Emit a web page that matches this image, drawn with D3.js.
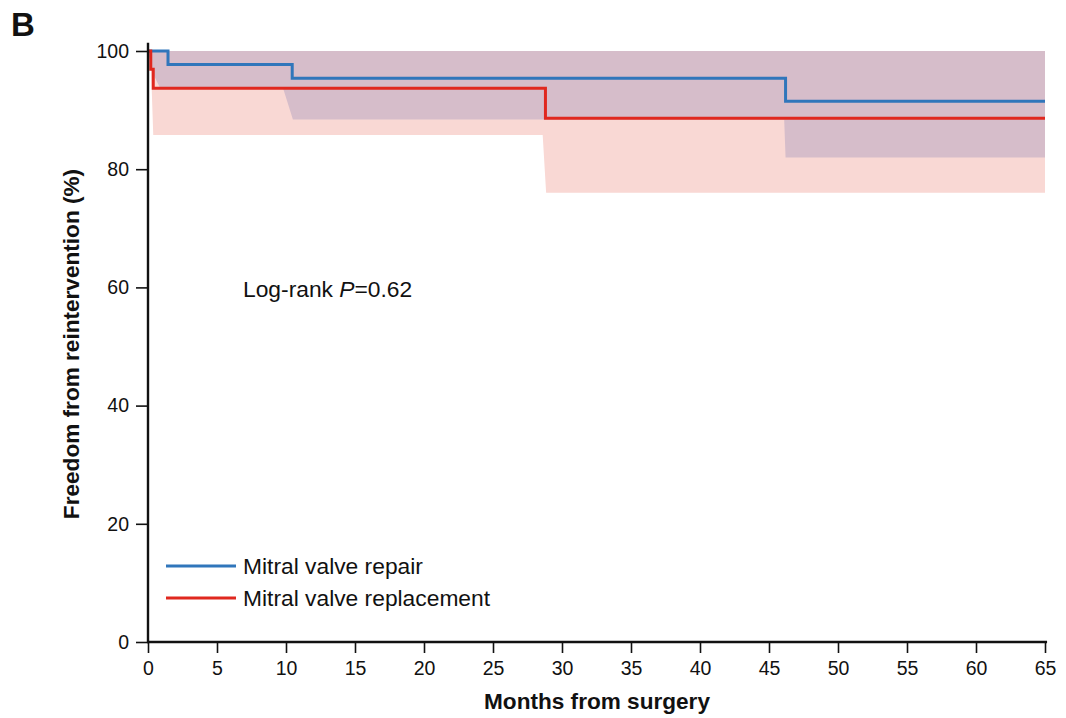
<!DOCTYPE html>
<html>
<head>
<meta charset="utf-8">
<script src="https://cdn.jsdelivr.net/npm/d3@7"></script>
<style>
  body { margin: 0; background: #fff; }
  text { font-family: "Liberation Sans", Arial, sans-serif; }
</style>
</head>
<body>
<div id="chart"></div>
<script>
// Kaplan-Meier step points [month, survival %]
const repairCurve = [[0, 100], [1.45, 97.7], [10.45, 95.4], [46.2, 91.5], [65, 91.5]];
const replaceCurve = [[0, 100], [0.2, 96.9], [0.38, 93.7], [28.8, 88.6], [65, 88.6]];

// confidence band lower limits (upper is 100 throughout)
const repairLower = [[0, 100], [0.3, 96.5], [0.9, 93.6], [9.8, 93.6], [10.5, 88.4], [46.1, 88.4], [46.2, 82], [65, 82]];
const replaceLower = [[0.22, 97], [0.38, 85.8], [28.6, 85.8], [28.85, 76], [65, 76]];

const xTicks = d3.range(0, 70, 5);
const yTicks = [0, 20, 40, 60, 80, 100];
const seriesNames = ["Mitral valve repair", "Mitral valve replacement"];

const width = 1066, height = 718,
  margin = ({top: 51, right: 21, bottom: 76, left: 148});

const svg = d3.select("#chart").append("svg")
  .attr("width", width).attr("height", height)
  .attr("viewBox", [0, 0, width, height]);

const x = d3.scaleLinear().domain([0, 65]).range([margin.left, width - margin.right]);
const y = d3.scaleLinear().domain([0, 100]).range([height - margin.bottom, margin.top]);

// bands
const band = d3.area()
  .x(d => x(d[0]))
  .y0(d => y(d[1]))
  .y1(y(100));

svg.append("path").datum(replaceLower)
  .attr("fill", "#f9d8d4")
  .attr("d", band);

svg.append("path").datum(repairLower)
  .attr("fill", "#d6bdca")
  .attr("d", band);

// step curves
const step = d3.line().x(d => x(d[0])).y(d => y(d[1])).curve(d3.curveStepAfter);

svg.append("path").datum(repairCurve)
  .attr("fill", "none").attr("stroke", "#3076bb").attr("stroke-width", 3)
  .attr("d", step);

svg.append("path").datum(replaceCurve)
  .attr("fill", "none").attr("stroke", "#e0281f").attr("stroke-width", 3)
  .attr("d", step);

// axes
const xAxis = g => g
  .attr("transform", `translate(0, ${y(0)})`)
  .call(d3.axisBottom(x).tickValues(xTicks).tickSize(11).tickPadding(8).tickSizeOuter(0))
  .call(g => g.select(".domain").remove());

const yAxis = g => g
  .attr("transform", `translate(${x(0)}, 0)`)
  .call(d3.axisLeft(y).tickValues(yTicks).tickSize(12).tickPadding(7).tickSizeOuter(0))
  .call(g => g.select(".domain").remove());

svg.append("g").call(xAxis);
svg.append("g").call(yAxis);

svg.selectAll(".tick line").attr("stroke", "#111").attr("stroke-width", 1.6);
svg.selectAll(".tick text").attr("font-size", 19.5).attr("fill", "#111")
  .style("font-family", "'Liberation Sans', Arial, sans-serif");

// axis lines
svg.append("line")
  .attr("x1", x(0)).attr("x2", x(0))
  .attr("y1", y(101.4)).attr("y2", y(0) + 1)
  .attr("stroke", "#111").attr("stroke-width", 2.4);
svg.append("line")
  .attr("x1", x(0) - 1).attr("x2", x(65.15))
  .attr("y1", y(0)).attr("y2", y(0))
  .attr("stroke", "#111").attr("stroke-width", 2.4);

// titles
svg.append("text")
  .attr("transform", `translate(79, 344) rotate(-90)`)
  .attr("text-anchor", "middle")
  .attr("font-size", 22.6).attr("font-weight", "bold").attr("fill", "#111")
  .text("Freedom from reintervention (%)");

svg.append("text")
  .attr("x", 597).attr("y", 709)
  .attr("text-anchor", "middle")
  .attr("font-size", 22.6).attr("font-weight", "bold").attr("fill", "#111")
  .text("Months from surgery");

svg.append("text")
  .attr("x", 11).attr("y", 36)
  .attr("font-size", 33).attr("font-weight", "bold").attr("fill", "#111")
  .text("B");

const lr = svg.append("text")
  .attr("x", 243).attr("y", 297)
  .attr("font-size", 22.8).attr("fill", "#111");
lr.append("tspan").text("Log-rank ");
lr.append("tspan").attr("font-style", "italic").text("P");
lr.append("tspan").text("=0.62");

// legend
const legendColors = ["#3076bb", "#e0281f"];
const legend = svg.append("g").selectAll("g")
  .data(seriesNames)
  .join("g")
  .attr("transform", (d, i) => `translate(166, ${566 + i * 32})`);

legend.append("line")
  .attr("x1", 0).attr("x2", 70)
  .attr("stroke", (d, i) => legendColors[i]).attr("stroke-width", 3);

legend.append("text")
  .attr("x", 77).attr("y", 8)
  .attr("font-size", 22.8).attr("fill", "#111")
  .text(d => d);
</script>
</body>
</html>
